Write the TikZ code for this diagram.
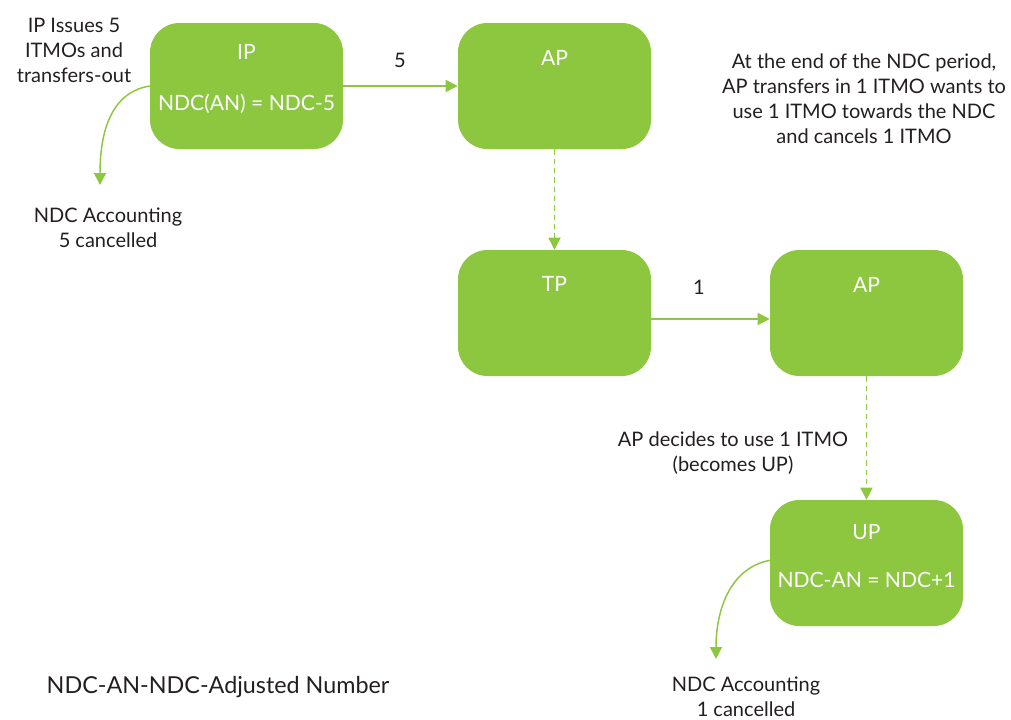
\documentclass[tikz,border=0pt]{standalone}
\usepackage{fontspec}
\setmainfont{Lato}
\usetikzlibrary{arrows.meta}
\definecolor{grn}{HTML}{8DC63F}
\definecolor{txt}{HTML}{231F20}
\tikzset{
  box/.style={fill=grn, rounded corners=22pt, minimum width=144.75pt, minimum height=94.5pt, inner sep=0pt},
  wt/.style={text=white, font=\fontsize{15.8}{18}\selectfont, inner sep=0pt},
  lbl/.style={text=txt, font=\fontsize{15}{18.75}\selectfont, align=center, inner sep=0pt},
  arr/.style={draw=grn, line width=1.1pt, -{Triangle[length=9pt,width=9pt]}},
  darr/.style={arr, dash pattern=on 4pt off 3pt}
}
\begin{document}
\begin{tikzpicture}[x=0.75pt,y=-0.75pt]
\path[use as bounding box] (0,0) rectangle (1011,719);
% boxes
\node[box] (ip)  at (246.5,86) {};
\node[box] (ap1) at (554.5,86) {};
\node[box] (tp)  at (554.5,313) {};
\node[box] (ap2) at (866.5,313) {};
\node[box] (up)  at (866.5,563) {};
% box texts
\node[wt] (ipt) at (246.5,52) {IP};
\node[wt] (ipf) at (246.5,104) {NDC(AN) = NDC-5};
\node[wt] (ap1t) at (554.5,58) {AP};
\node[wt] (tpt) at (554.5,284) {TP};
\node[wt] (ap2t) at (866.5,285) {AP};
\node[wt] (upt) at (866.5,532) {UP};
\node[wt] (upf) at (866.5,580) {NDC-AN = NDC+1};
% labels
\node[lbl] (note1) at (74,50) {IP Issues 5\\ITMOs and\\transfers-out};
\node[lbl] (acc1) at (108,228) {NDC Accounting\\5 cancelled};
\node[lbl] (five) at (400,60) {5};
\node[lbl] (one) at (699,287) {1};
\node[lbl] (note2) at (864,99) {At the end of the NDC period,\\AP transfers in 1 ITMO wants to\\use 1 ITMO towards the NDC\\and cancels 1 ITMO};
\node[lbl] (dec) at (733,453) {AP decides to use 1 ITMO\\(becomes UP)};
\node[lbl] (acc2) at (746,697) {NDC Accounting\\1 cancelled};
\node[lbl, font=\fontsize{17.5}{20}\selectfont] (legend) at (218,687) {NDC-AN-NDC-Adjusted Number};
% coordinates for free ends
\coordinate (c1) at (100,185);
\coordinate (c2) at (716,659);
% connectors
\draw[arr] (ip.east) -- (ap1.west);
\draw[darr] (ap1.south) -- (tp.north);
\draw[arr] ([yshift=-4.5pt]tp.east) -- ([yshift=-4.5pt]ap2.west);
\draw[darr] (ap2.south) -- (up.north);
\draw[arr] (ip.west) .. controls (112,92) and (100,130) .. (c1);
\draw[arr] ([yshift=2pt]up.west) .. controls (730,568) and (716,610) .. (c2);
\end{tikzpicture}
\end{document}
